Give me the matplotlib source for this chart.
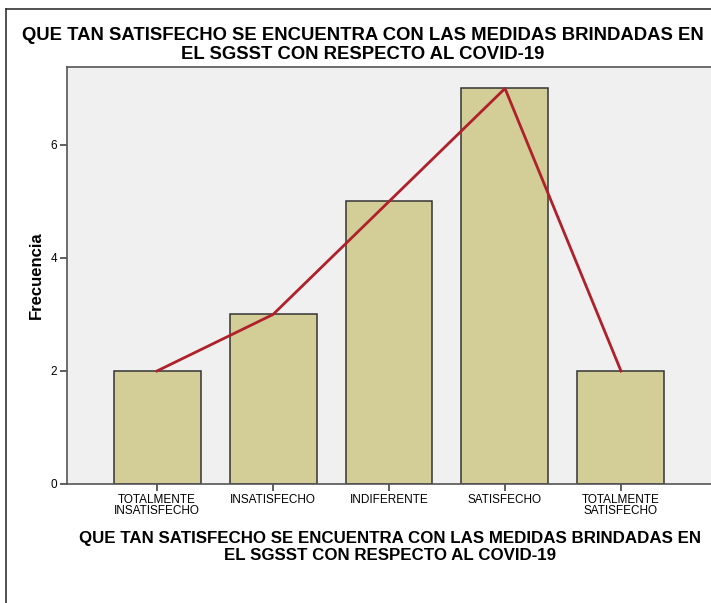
import matplotlib.pyplot as plt
import numpy as np
from matplotlib.lines import Line2D

categorias = ['TOTALMENTE\nINSATISFECHO', 'INSATISFECHO', 'INDIFERENTE',
              'SATISFECHO', 'TOTALMENTE\nSATISFECHO']
frecuencia = [2, 3, 5, 7, 2]
yticks = [0, 2, 4, 6]

titulo = 'QUE TAN SATISFECHO SE ENCUENTRA CON LAS MEDIDAS BRINDADAS EN\nEL SGSST CON RESPECTO AL COVID-19'

plt.rcParams['font.family'] = ['Liberation Sans', 'DejaVu Sans']

W, H = 711, 603
fig = plt.figure(figsize=(W/100, H/100), dpi=100)

# marco exterior (solo izquierda y arriba visibles)
fig.add_artist(Line2D([6/W, 6/W], [0, 1 - 9/H], color='#333333', lw=1.2, transform=fig.transFigure))
fig.add_artist(Line2D([6/W, 1], [1 - 9/H, 1 - 9/H], color='#333333', lw=1.2, transform=fig.transFigure))

ax = fig.add_axes([67/W, (H-484)/H, 1 - 67/W, (484-67)/H])
ax.set_facecolor('#F0F0F0')

x = np.arange(len(categorias))
ax.bar(x, frecuencia, width=0.75, color='#D3CE97', edgecolor='#333333', linewidth=1.1, zorder=2)
ax.plot(x, frecuencia, color='#B0202A', lw=2, zorder=3)

ax.set_xlim(-0.776, 4.776)
ax.set_ylim(0, 7.38)
ax.set_xticks(x)
ax.set_xticklabels(categorias, fontsize=8.5, linespacing=0.95)
ax.set_yticks(yticks)
ax.set_yticklabels([str(v) for v in yticks], fontsize=8.5)
ax.tick_params(axis='both', length=5, width=1.2, color='#444444', pad=2)

for s in ['left', 'bottom', 'top']:
    ax.spines[s].set_color('#555555')
    ax.spines[s].set_linewidth(1.2)
ax.spines['right'].set_visible(False)

ax.set_ylabel('Frecuencia', fontsize=12, fontweight='bold', labelpad=5)

fig.text(363/W, 1 - 45/H, titulo, ha='center', va='center', fontsize=13.3,
         fontweight='bold', linespacing=1.12)
fig.text(390/W, 1 - 547/H, titulo, ha='center', va='center', fontsize=12.2,
         fontweight='bold', linespacing=1.12)

fig.savefig('out.png', dpi=100)
